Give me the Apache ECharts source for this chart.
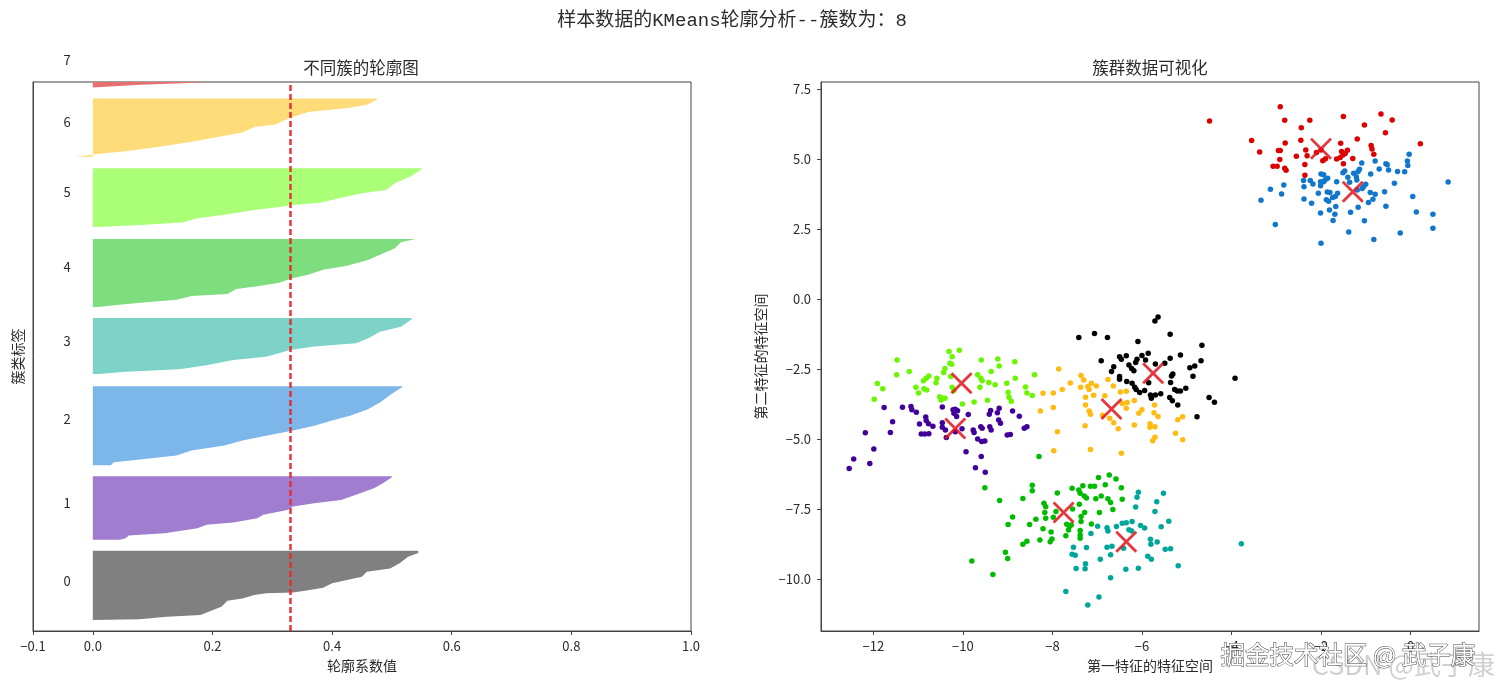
<!DOCTYPE html>
<html>
<head>
<meta charset="utf-8">
<style>
  html, body { margin: 0; padding: 0; background: #fff; }
  #chart { width: 1500px; height: 689px; }
</style>
<script src="https://cdn.jsdelivr.net/npm/echarts@6/dist/echarts.min.js"></script>
</head>
<body>
<div id="chart"></div>
<script>
// 轮廓图: [样本序号, 轮廓系数]
const silhouette0 = [[0,0],[0.6,.078],[3,.124],[4.5,.18],[9,.2],[12,.215],[17.6,.225],[19.7,.25],[22.8,.27],[24.3,.29],[25,.335],[27,.36],[29.4,.385],[33.4,.40],[36.4,.425],[39.5,.45],[44,.458],[47,.497],[51.6,.513],[57.7,.527],[61,.544],[63,.544]]
const silhouette1 = [[0,.045],[1.5,.055],[4,.06],[6,.12],[10.6,.175],[13.7,.19],[15.8,.235],[19.8,.275],[22.8,.285],[27.3,.325],[30.4,.335],[33.4,.37],[36.4,.415],[41,.44],[47,.47],[51.6,.485],[57,.5],[58,.5]]
const silhouette2 = [[0,.03],[2.7,.035],[4.9,.075],[8.8,.14],[13.4,.165],[18,.22],[22.5,.25],[28,.30],[31.6,.335],[36,.37],[40.7,.40],[45,.43],[51,.46],[57,.48],[65,.5],[71,.517],[72,.517]]
const silhouette3 = [[0,.01],[2,.055],[4.5,.145],[8,.19],[12.7,.235],[15.8,.29],[21.9,.33],[25,.37],[28,.44],[32.5,.46],[38.6,.48],[43,.515],[50,.533],[51,.533]]
const silhouette4 = [[0,.01],[2,.04],[4,.08],[6.7,.14],[10,.165],[12,.225],[16.4,.24],[19,.275],[22,.31],[26.4,.335],[29.5,.36],[34,.385],[37.6,.425],[43,.46],[47.7,.48],[53.7,.505],[59,.515],[62,.54]]
const silhouette5 = [[0,.01],[1.8,.08],[4,.15],[8,.175],[11,.22],[15.5,.27],[18,.31],[20,.335],[22,.38],[26,.41],[30.7,.45],[33.7,.49],[39.8,.505],[45.8,.53],[52.5,.55],[53.5,.55]]
const silhouette6 = [[0,-.028],[2,0],[5,.055],[9.7,.12],[14,.17],[17,.2],[22,.25],[27,.27],[29.4,.305],[35.5,.33],[40.7,.36],[44.6,.43],[47.6,.46],[52,.475],[53,.475]]
const silhouette7 = [[0,0],[2.4,.08],[4.5,.185],[5,.185]]
const silhouettes = [silhouette0, silhouette1, silhouette2, silhouette3, silhouette4, silhouette5, silhouette6, silhouette7]
const clusterStart = [10, 83, 151, 234, 295, 368, 432, 495]
const clusterLabels = ['0', '1', '2', '3', '4', '5', '6', '7']
const clusterLabelY = [45.5, 116.6, 193, 264, 331, 399.7, 463.6, 520]
const clusterFill = ['#808080', '#a07dcf', '#7db7ea', '#7dd3c7', '#7edd7e', '#aaff77', '#ffdc7a', '#e67070']
const clusterLabelX = -0.043
const avgSilhouette = 0.3296

const silhouetteTicks = [-0.1, 0, 0.2, 0.4, 0.6, 0.8, 1.0]
const featureXTicks = [-12, -10, -8, -6, -4, -2, 0]
const featureYTicks = [-10, -7.5, -5, -2.5, 0, 2.5, 5, 7.5]

// 散点: 第一特征, 第二特征
const pointsBlack = [[-5.64,-.64],[-5.71,-.79],[-7.41,-1.38],[-7.06,-1.23],[-6.77,-1.38],[-6.09,-1.52],[-5.37,-1.26],[-4.66,-1.65],[-5.14,-2.00],[-5.37,-2.12],[-4.68,-2.21],[-4.82,-2.39],[-4.93,-2.46],[-4.86,-2.76],[-3.92,-2.83],[-5.86,-1.94],[-6.00,-2.02],[-6.35,-2.03],[-6.50,-2.06],[-6.46,-2.15],[-6.11,-2.15],[-6.14,-2.27],[-5.92,-2.18],[-6.91,-2.21],[-6.63,-2.42],[-6.68,-2.59],[-6.29,-2.36],[-6.23,-2.48],[-6.18,-2.56],[-5.70,-2.32],[-5.49,-2.30],[-5.31,-2.68],[-5.34,-2.75],[-6.50,-2.77],[-6.50,-2.87],[-6.34,-2.95],[-6.22,-3.01],[-6.16,-3.15],[-6.13,-3.23],[-5.94,-3.27],[-6.05,-3.34],[-5.85,-2.99],[-5.36,-2.98],[-5.27,-3.23],[-5.21,-3.29],[-5.14,-3.29],[-5.02,-3.19],[-5.81,-3.43],[-5.70,-3.43],[-5.58,-3.39],[-5.79,-3.55],[-5.38,-3.52],[-5.32,-3.64],[-5.20,-3.79],[-4.50,-3.52],[-4.38,-3.69],[-4.77,-4.21]]
const pointsPurple = [[-11.76,-3.88],[-11.35,-3.87],[-11.16,-3.84],[-11.14,-3.96],[-11.04,-4.05],[-10.46,-3.86],[-10.22,-3.96],[-10.17,-3.94],[-10.12,-3.99],[-10.20,-4.08],[-10.14,-4.20],[-9.88,-4.13],[-9.38,-3.98],[-9.41,-4.12],[-9.19,-3.90],[-9.23,-4.06],[-8.89,-4.00],[-8.74,-4.19],[-10.83,-4.22],[-10.82,-4.34],[-10.77,-4.46],[-10.67,-4.55],[-10.97,-4.47],[-11.57,-4.39],[-12.18,-4.78],[-11.62,-4.77],[-10.93,-4.82],[-10.85,-4.82],[-10.76,-4.81],[-10.46,-4.42],[-10.46,-4.58],[-10.39,-4.68],[-10.37,-4.95],[-10.17,-4.74],[-10.02,-4.64],[-9.77,-4.68],[-9.75,-4.77],[-9.60,-4.56],[-9.57,-4.62],[-9.40,-4.56],[-9.37,-4.68],[-9.20,-4.32],[-9.16,-4.44],[-9.01,-4.86],[-8.94,-4.84],[-8.63,-4.62],[-8.57,-4.56],[-9.67,-5.00],[-9.58,-5.09],[-9.51,-5.07],[-9.93,-5.46],[-9.59,-5.63],[-11.99,-5.36],[-12.44,-5.72],[-12.08,-5.88],[-12.54,-6.06],[-9.72,-6.03],[-9.50,-6.19]]
const pointsBlue = [[.84,4.18],[-.03,5.17],[-.07,4.93],[-.06,4.77],[-.55,4.83],[-.52,4.79],[-.49,4.61],[-.79,4.93],[-.70,4.64],[-.29,4.55],[-.13,4.54],[-1.09,4.86],[-1.14,4.63],[-1.17,4.55],[-.89,4.46],[-1.47,4.57],[-1.51,4.51],[-1.27,4.49],[-1.40,4.35],[-1.36,4.17],[-1.21,4.37],[-1.20,4.25],[-1.05,4.01],[-1.08,3.95],[-1.00,4.10],[-.36,4.13],[-1.65,4.19],[-2.00,4.46],[-1.94,4.44],[-1.85,4.31],[-1.91,4.25],[-1.94,4.19],[-2.01,4.19],[-2.01,4.04],[-2.39,4.23],[-2.38,4.01],[-2.24,4.23],[-2.18,4.11],[-3.13,3.92],[-2.83,4.07],[-2.88,3.75],[-3.34,3.53],[-2.38,3.57],[-2.21,3.42],[-2.06,3.78],[-1.86,3.82],[-1.80,3.80],[-1.63,3.78],[-1.68,3.66],[-1.74,3.62],[-1.88,3.54],[-1.83,3.49],[-1.81,3.18],[-1.67,3.30],[-2.01,3.07],[-1.69,3.03],[-1.73,2.80],[-1.34,3.10],[-1.17,3.28],[-1.03,2.79],[-1.38,2.39],[-.82,2.12],[-2.00,1.99],[-3.02,2.66],[-.23,2.36],[.50,2.53],[.50,3.03],[.13,3.11],[.05,3.66],[-.55,3.31],[-.58,3.83],[-.90,3.80],[-.79,3.74],[-.84,3.56],[-.94,3.45],[-1.19,3.89]]
const pointsTeal = [[-6.08,-6.90],[-6.11,-7.08],[-5.52,-6.94],[-5.67,-7.24],[-6.14,-7.43],[-5.71,-7.59],[-5.40,-7.94],[-5.57,-8.14],[-6.22,-7.95],[-6.35,-7.99],[-6.44,-8.01],[-6.57,-8.13],[-6.78,-8.17],[-6.76,-8.29],[-6.99,-8.12],[-7.14,-8.38],[-6.03,-8.09],[-5.94,-8.18],[-6.29,-8.24],[-6.23,-8.29],[-5.81,-8.58],[-5.80,-8.76],[-5.66,-8.68],[-7.53,-8.87],[-7.24,-8.88],[-6.78,-8.87],[-6.67,-8.83],[-6.41,-8.90],[-5.48,-8.94],[-5.36,-8.92],[-7.56,-9.12],[-7.49,-9.15],[-6.70,-9.14],[-6.93,-9.30],[-5.87,-9.19],[-5.79,-9.30],[-7.26,-9.46],[-7.27,-9.64],[-7.47,-9.63],[-6.36,-9.65],[-6.08,-9.62],[-5.19,-9.53],[-6.70,-9.96],[-7.70,-10.45],[-6.96,-10.65],[-7.21,-10.93],[-3.78,-8.74]]
const pointsGreen = [[-9.51,-6.74],[-9.18,-7.20],[-8.66,-7.13],[-8.45,-6.65],[-8.45,-6.85],[-7.89,-6.93],[-7.56,-6.76],[-7.32,-6.67],[-7.15,-6.69],[-7.06,-6.69],[-6.82,-6.64],[-6.97,-6.38],[-6.73,-6.29],[-6.58,-6.43],[-6.46,-6.74],[-7.41,-6.82],[-7.38,-6.94],[-7.29,-7.04],[-7.24,-7.11],[-7.03,-7.14],[-6.91,-7.04],[-6.76,-7.14],[-6.70,-7.27],[-6.44,-7.15],[-7.40,-7.33],[-6.65,-7.52],[-6.95,-7.63],[-7.28,-7.63],[-7.36,-7.77],[-7.36,-7.95],[-8.19,-7.30],[-8.15,-7.42],[-7.55,-7.50],[-8.17,-7.63],[-8.15,-7.83],[-7.98,-7.80],[-7.92,-7.59],[-8.89,-7.79],[-8.99,-8.06],[-8.37,-7.87],[-8.51,-8.06],[-8.21,-8.21],[-7.68,-8.05],[-7.58,-8.07],[-7.13,-8.04],[-7.64,-8.25],[-8.03,-8.32],[-7.38,-8.27],[-7.38,-8.43],[-7.38,-8.55],[-7.70,-8.46],[-8.28,-8.61],[-8.01,-8.57],[-8.05,-8.67],[-8.57,-8.65],[-8.66,-8.76],[-9.05,-9.05],[-9.00,-9.27],[-9.80,-9.36],[-9.33,-9.84],[-7.62,-8.13],[-8.30,-5.63]]
const pointsLime = [[-10.31,-1.88],[-10.08,-1.83],[-10.24,-2.06],[-11.47,-2.18],[-9.59,-2.18],[-9.22,-2.14],[-8.84,-2.24],[-9.19,-2.39],[-10.29,-2.30],[-10.25,-2.33],[-10.40,-2.48],[-10.43,-2.63],[-9.37,-2.59],[-11.20,-2.59],[-11.48,-2.71],[-8.40,-2.71],[-8.83,-2.83],[-10.76,-2.75],[-10.82,-2.83],[-10.88,-2.92],[-10.58,-2.83],[-10.60,-2.99],[-10.27,-2.77],[-9.67,-2.71],[-9.60,-2.83],[-9.57,-2.92],[-9.42,-2.98],[-9.28,-3.06],[-9.02,-3.01],[-11.91,-3.02],[-11.79,-3.21],[-11.05,-3.15],[-10.99,-3.36],[-10.87,-3.21],[-10.81,-3.25],[-10.24,-3.15],[-10.20,-3.27],[-9.62,-3.15],[-8.60,-3.14],[-8.99,-3.33],[-8.97,-3.51],[-8.92,-3.65],[-8.57,-3.36],[-8.45,-3.45],[-11.98,-3.58],[-10.52,-3.49],[-10.46,-3.55],[-10.40,-3.55],[-10.49,-3.61],[-10.01,-3.75],[-9.75,-3.68],[-9.45,-3.62]]
const pointsYellow = [[-7.86,-2.50],[-7.36,-2.73],[-7.30,-2.89],[-7.60,-3.00],[-7.78,-3.23],[-7.98,-3.36],[-8.21,-3.37],[-7.37,-3.15],[-7.21,-3.13],[-7.13,-3.01],[-7.18,-3.23],[-7.02,-3.11],[-6.76,-2.88],[-6.64,-3.11],[-6.48,-3.32],[-6.35,-3.30],[-7.08,-3.44],[-7.26,-3.51],[-6.83,-3.46],[-7.26,-3.79],[-7.98,-3.88],[-8.27,-4.00],[-7.18,-4.00],[-7.15,-4.12],[-6.88,-4.15],[-6.44,-3.73],[-6.33,-3.70],[-6.17,-3.63],[-6.35,-3.90],[-5.72,-3.79],[-6.00,-3.96],[-6.07,-4.08],[-5.73,-4.06],[-5.64,-4.20],[-5.09,-4.21],[-5.20,-4.31],[-6.72,-4.26],[-6.63,-4.42],[-6.53,-4.64],[-7.27,-4.53],[-7.89,-4.74],[-6.17,-4.50],[-5.82,-4.46],[-5.82,-4.58],[-5.71,-4.56],[-5.25,-4.80],[-5.09,-5.03],[-5.71,-4.94],[-5.76,-5.06],[-7.97,-5.42],[-7.15,-5.38],[-6.46,-5.51]]
const pointsRed = [[-4.49,6.36],[-2.91,6.87],[-2.81,6.38],[-2.25,6.38],[-2.44,6.12],[-1.50,6.52],[-1.03,6.21],[-.66,6.61],[-.41,6.39],[-.56,5.94],[-3.55,5.66],[-3.37,5.25],[-2.80,5.57],[-2.45,5.67],[-2.91,5.30],[-2.95,5.30],[-2.34,5.32],[-2.55,5.10],[-2.31,5.12],[-2.92,4.98],[-3.07,4.74],[-2.98,4.74],[-2.81,4.67],[-2.78,4.60],[-2.36,4.80],[-2.36,4.42],[-2.10,5.23],[-2.00,5.32],[-1.96,4.94],[-1.90,5.01],[-1.56,5.56],[-1.19,5.71],[-1.54,5.27],[-1.41,5.31],[-1.51,5.14],[-1.46,5.20],[-1.65,5.00],[-1.57,5.05],[-1.29,5.02],[-1.50,4.83],[-.88,5.48],[-.86,5.36],[-.82,5.17],[.22,5.54]]
const scatterGroups = [pointsBlack, pointsPurple, pointsBlue, pointsTeal, pointsGreen, pointsLime, pointsYellow, pointsRed]
const scatterColors = ['#000000', '#42009a', '#1177cc', '#00a69a', '#00bb00', '#6af500', '#ffbb11', '#dd0000']
const centroids = [[-5.75,-2.65],[-10.17,-4.63],[-1.29,3.83],[-6.35,-8.67],[-7.75,-7.63],[-10.03,-3.01],[-6.68,-3.93],[-2.00,5.37]]

const cjkFont = '"Noto Sans CJK SC", sans-serif'
const titleFont = '"Liberation Mono", "Noto Sans CJK SC", monospace'
const inkColor = '#2b2b2b'
const crossPath = 'path://M1.8,0 L10,8.2 L18.2,0 L20,1.8 L11.8,10 L20,18.2 L18.2,20 L10,11.8 L1.8,20 L0,18.2 L8.2,10 L0,1.8 Z'

function axisBase(name, nameGap) {
  return {
    type: 'value',
    name,
    nameLocation: 'middle',
    nameGap,
    nameTextStyle: { color: inkColor, fontFamily: cjkFont, fontSize: 14 },
    splitLine: { show: false },
    axisLine: { onZero: false, lineStyle: { color: '#444', width: 1 } },
    axisTick: { show: true, length: 4, lineStyle: { color: '#444' } },
    axisLabel: { color: inkColor, fontFamily: cjkFont, fontSize: 13, margin: 9 }
  }
}

function minusText(text) {
  return text.replace('-', '\u2212')
}

const myChart = echarts.init(document.getElementById('chart'))

const option = {
  animation: false,
  backgroundColor: '#fff',
  title: [
    { text: '样本数据的KMeans轮廓分析--簇数为：8', left: 732, top: 11, padding: 0, textAlign: 'center',
      textStyle: { color: inkColor, fontFamily: titleFont, fontSize: 19, fontWeight: 'normal' } },
    { text: '不同簇的轮廓图', left: 361, top: 59, padding: 0, textAlign: 'center',
      textStyle: { color: inkColor, fontFamily: cjkFont, fontSize: 16.5, fontWeight: 'normal' } },
    { text: '簇群数据可视化', left: 1150, top: 59, padding: 0, textAlign: 'center',
      textStyle: { color: inkColor, fontFamily: cjkFont, fontSize: 16.5, fontWeight: 'normal' } }
  ],
  grid: [
    { left: 33, right: 809, top: 82, bottom: 58, show: true, borderColor: '#444', borderWidth: 1, backgroundColor: 'transparent' },
    { left: 821, right: 21, top: 82, bottom: 58, show: true, borderColor: '#444', borderWidth: 1, backgroundColor: 'transparent' }
  ],
  xAxis: [
    Object.assign(axisBase('轮廓系数值', 28), {
      gridIndex: 0, min: -0.1, max: 1.0,
      axisTick: { show: true, length: 4, lineStyle: { color: '#444' }, customValues: silhouetteTicks },
      axisLabel: { color: inkColor, fontFamily: cjkFont, fontSize: 13, margin: 9, customValues: silhouetteTicks,
        formatter: v => minusText(Number(v).toFixed(1)) }
    }),
    Object.assign(axisBase('第一特征的特征空间', 28), {
      gridIndex: 1, min: -13.17, max: 1.53,
      axisTick: { show: true, length: 4, lineStyle: { color: '#444' }, customValues: featureXTicks },
      axisLabel: { color: inkColor, fontFamily: cjkFont, fontSize: 13, margin: 9, customValues: featureXTicks,
        formatter: v => minusText(String(Number(v))) }
    })
  ],
  yAxis: [
    Object.assign(axisBase('簇类标签', 8), {
      gridIndex: 0, min: 0, max: 500,
      axisTick: { show: false },
      axisLabel: { show: false }
    }),
    Object.assign(axisBase('第二特征的特征空间', 53), {
      gridIndex: 1, min: -11.86, max: 7.75,
      axisTick: { show: true, length: 4, lineStyle: { color: '#444' }, customValues: featureYTicks },
      axisLabel: { color: inkColor, fontFamily: cjkFont, fontSize: 13, margin: 10, customValues: featureYTicks,
        formatter: v => minusText(Number(v).toFixed(1)) }
    })
  ],
  series: [
    {
      name: '轮廓图',
      type: 'custom',
      xAxisIndex: 0,
      yAxisIndex: 0,
      silent: true,
      data: clusterLabels.map((_, i) => [i]),
      renderItem(params, api) {
        const i = api.value(0)
        const start = clusterStart[i]
        const profile = silhouettes[i]
        const top = start + profile[profile.length - 1][0]
        const points = [api.coord([0, start])]
        profile.forEach(([rank, value]) => points.push(api.coord([value, start + rank])))
        points.push(api.coord([0, top]))
        return { type: 'polygon', shape: { points }, style: { fill: clusterFill[i] } }
      },
      markLine: {
        silent: true,
        symbol: 'none',
        label: { show: false },
        lineStyle: { color: '#e62a2f', type: [6, 3], width: 2.5, opacity: 0.95 },
        data: [{ xAxis: avgSilhouette }]
      },
      z: 2
    },
    {
      name: '簇标签',
      type: 'custom',
      xAxisIndex: 0,
      yAxisIndex: 0,
      silent: true,
      data: clusterLabels.map((_, i) => [i]),
      renderItem(params, api) {
        const i = api.value(0)
        const pos = api.coord([clusterLabelX, clusterLabelY[i]])
        return {
          type: 'text',
          x: pos[0],
          y: pos[1],
          style: { text: clusterLabels[i], fill: inkColor, font: '13px ' + cjkFont, align: 'center', verticalAlign: 'middle' }
        }
      },
      z: 3
    },
    ...scatterGroups.map((points, i) => ({
      name: 'cluster' + i,
      type: 'scatter',
      xAxisIndex: 1,
      yAxisIndex: 1,
      symbolSize: 5.5,
      itemStyle: { color: scatterColors[i], opacity: 1 },
      data: points,
      z: 2
    })),
    {
      name: '质心',
      type: 'scatter',
      xAxisIndex: 1,
      yAxisIndex: 1,
      symbol: crossPath,
      symbolSize: 22,
      itemStyle: { color: '#e3141c', opacity: 0.85 },
      data: centroids,
      z: 5
    }
  ],
  graphic: [
    { type: 'text', right: 5, top: 651, z: 100, silent: true,
      style: { text: 'CSDN @武子康', fill: 'rgba(150,150,150,0.45)', font: '27px ' + cjkFont } },
    { type: 'text', left: 1220, top: 642, z: 101, silent: true,
      style: { text: '掘金技术社区 @ 武子康', fill: '#fff', stroke: '#444', lineWidth: 1, font: '24.5px ' + cjkFont } }
  ]
}

myChart.setOption(option)
</script>
</body>
</html>
